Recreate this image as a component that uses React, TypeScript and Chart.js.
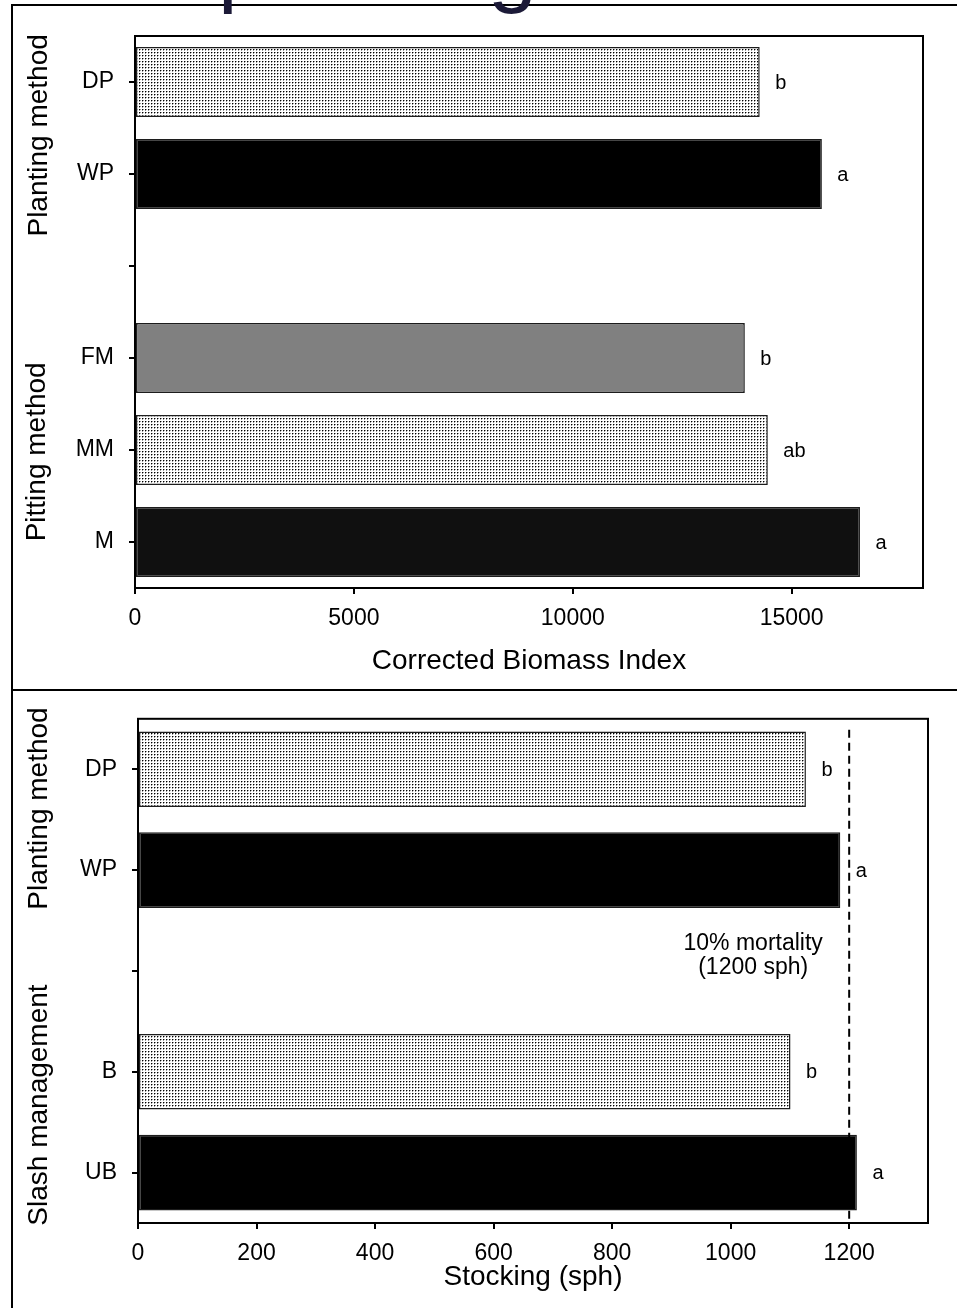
import React, { useEffect, useRef } from 'react';
import { Chart, registerables } from 'chart.js';

Chart.register(...registerables);

// ---------- data ----------
const topCategories = ['DP', 'WP', '', 'FM', 'MM', 'M'];
const topValues = [14270, 15690, null, 13930, 14455, 16560];
const topLetters = ['b', 'a', '', 'b', 'ab', 'a'];
const topTicks = [0, 5000, 10000, 15000];
const topMax = 18000;
const topTitle = 'Corrected Biomass Index';
const topGroups = ['Planting method', 'Pitting method'];

const bottomCategories = ['DP', 'WP', '', 'B', 'UB'];
const bottomValues = [1127, 1185, null, 1101, 1213];
const bottomLetters = ['b', 'a', '', 'b', 'a'];
const bottomTicks = [0, 200, 400, 600, 800, 1000, 1200];
const bottomMax = 1333;
const bottomTitle = 'Stocking (sph)';
const bottomGroups = ['Planting method', 'Slash management'];
const mortalityValue = 1200;
const mortalityLabel = ['10% mortality', '(1200 sph)'];

const headingFragments = ['p', 'g'];

// ---------- styles ----------
const FAMILY = '"Liberation Sans", Arial, Helvetica, sans-serif';

function makeDots(): CanvasPattern | string {
  const c = document.createElement('canvas');
  c.width = 3;
  c.height = 3;
  const g = c.getContext('2d');
  if (!g) return '#ddd';
  g.fillStyle = '#ffffff';
  g.fillRect(0, 0, 3, 3);
  g.fillStyle = '#000000';
  g.fillRect(1, 1, 1, 1);
  g.fillStyle = '#9a9a9a';
  g.fillRect(2, 1, 1, 1);
  g.fillRect(1, 2, 1, 1);
  const p = g.createPattern(c, 'repeat');
  return p || '#ddd';
}

type Group = { text: string; at: number; x: number };

function makeAnnot(cfg: {
  values: (number | null)[];
  letters: string[];
  groups: Group[];
  extra?: (chart: any) => void;
}) {
  return {
    id: 'annot',
    afterDraw(chart: any) {
      const { ctx, chartArea: a, scales } = chart;
      const xs = scales.x;
      const ys = scales.y;
      ctx.save();
      // plot frame
      ctx.strokeStyle = '#000';
      ctx.lineWidth = 2;
      ctx.strokeRect(a.left, a.top, a.right - a.left, a.bottom - a.top);
      // significance letters
      ctx.fillStyle = '#000';
      ctx.font = `20px ${FAMILY}`;
      ctx.textAlign = 'left';
      ctx.textBaseline = 'middle';
      cfg.values.forEach((v, i) => {
        if (v == null || !cfg.letters[i]) return;
        ctx.fillText(cfg.letters[i], xs.getPixelForValue(v) + 15.5, ys.getPixelForValue(i) + 1);
      });
      // group axis titles
      ctx.font = `28px ${FAMILY}`;
      ctx.textAlign = 'center';
      ctx.textBaseline = 'middle';
      cfg.groups.forEach((g) => {
        ctx.save();
        ctx.translate(g.x, ys.getPixelForValue(g.at));
        ctx.rotate(-Math.PI / 2);
        ctx.fillText(g.text, 0, 0);
        ctx.restore();
      });
      if (cfg.extra) cfg.extra(chart);
      ctx.restore();
    },
  };
}

function axisGrid() {
  return {
    drawOnChartArea: false,
    drawTicks: true,
    tickLength: 6,
    color: '#000',
    lineWidth: 2,
    offset: false,
  };
}

function buildConfig(opts: {
  labels: string[];
  values: (number | null)[];
  colors: any[];
  max: number;
  ticks: number[];
  title: string;
  titlePadBottom: number;
  padding: { left: number; top: number; right: number; bottom: number };
  yWidth: number;
  xHeight: number;
  barPct: number;
  plugin: any;
}) {
  return {
    type: 'bar',
    data: {
      labels: opts.labels,
      datasets: [
        {
          data: opts.values,
          backgroundColor: opts.colors,
          borderColor: '#1c1c1c',
          borderWidth: 1.5,
          borderSkipped: false,
          barPercentage: opts.barPct,
          categoryPercentage: 1,
        },
      ],
    },
    options: {
      indexAxis: 'y',
      responsive: false,
      maintainAspectRatio: false,
      animation: false,
      devicePixelRatio: 1,
      layout: { padding: opts.padding },
      plugins: { legend: { display: false }, tooltip: { enabled: false } },
      scales: {
        x: {
          type: 'linear',
          min: 0,
          max: opts.max,
          afterBuildTicks: (s: any) => {
            s.ticks = opts.ticks.map((v) => ({ value: v }));
          },
          afterFit: (s: any) => {
            s.height = opts.xHeight;
          },
          grid: axisGrid(),
          border: { display: false },
          ticks: {
            color: '#000',
            font: { size: 23, family: FAMILY, lineHeight: 1.2 },
            padding: 11,
            maxRotation: 0,
            autoSkip: false,
            callback: (v: any) => String(v),
          },
          title: {
            display: true,
            text: opts.title,
            color: '#000',
            font: { size: 28, family: FAMILY, lineHeight: 1.2 },
            padding: { top: 0, bottom: opts.titlePadBottom },
          },
        },
        y: {
          type: 'category',
          afterFit: (s: any) => {
            s.width = opts.yWidth;
          },
          grid: axisGrid(),
          border: { display: false },
          ticks: {
            color: '#000',
            font: { size: 23, family: FAMILY, lineHeight: 1.2 },
            padding: 15,
            autoSkip: false,
          },
        },
      },
    },
    plugins: [opts.plugin],
  };
}

export default function App() {
  const topRef = useRef<HTMLCanvasElement | null>(null);
  const botRef = useRef<HTMLCanvasElement | null>(null);

  useEffect(() => {
    const dots = makeDots();
    const topColors = [dots, '#000000', '#ffffff', '#808080', dots, '#101010'];
    const botColors = [dots, '#000000', '#ffffff', dots, '#000000'];

    const topPlugin = makeAnnot({
      values: topValues,
      letters: topLetters,
      groups: [
        { text: topGroups[0], at: 0.58, x: 39 },
        { text: topGroups[1], at: 4.02, x: 37 },
      ],
      extra: (chart: any) => {
        const ctx = chart.ctx;
        ctx.fillStyle = '#1c1a38';
        ctx.font = `88px ${FAMILY}`;
        ctx.textAlign = 'left';
        ctx.textBaseline = 'alphabetic';
        ctx.fillText(headingFragments[0], 218, -4.5);
        ctx.fillText(headingFragments[1], 488, -4.5);
      },
    });

    const botPlugin = makeAnnot({
      values: bottomValues,
      letters: bottomLetters,
      groups: [
        { text: bottomGroups[0], at: 0.39, x: 39 },
        { text: bottomGroups[1], at: 3.33, x: 39 },
      ],
      extra: (chart: any) => {
        const { ctx, chartArea: a, scales } = chart;
        const px = scales.x.getPixelForValue(mortalityValue);
        ctx.save();
        ctx.strokeStyle = '#000';
        ctx.lineWidth = 2;
        ctx.setLineDash([8, 5]);
        ctx.beginPath();
        ctx.moveTo(px, a.top + 11);
        ctx.lineTo(px, a.bottom);
        ctx.stroke();
        ctx.restore();
        const cy = scales.y.getPixelForValue(2);
        ctx.fillStyle = '#000';
        ctx.font = `23px ${FAMILY}`;
        ctx.textAlign = 'center';
        ctx.textBaseline = 'middle';
        ctx.fillText(mortalityLabel[0], px - 96, cy - 27);
        ctx.fillText(mortalityLabel[1], px - 96, cy - 3);
      },
    });

    const c1 = new Chart(
      topRef.current as HTMLCanvasElement,
      buildConfig({
        labels: topCategories,
        values: topValues,
        colors: topColors,
        max: topMax,
        ticks: topTicks,
        title: topTitle,
        titlePadBottom: 12,
        padding: { left: 0, top: 36, right: 34, bottom: 0 },
        yWidth: 135,
        xHeight: 102,
        barPct: 0.76,
        plugin: topPlugin,
      }) as any
    );
    const c2 = new Chart(
      botRef.current as HTMLCanvasElement,
      buildConfig({
        labels: bottomCategories,
        values: bottomValues,
        colors: botColors,
        max: bottomMax,
        ticks: bottomTicks,
        title: bottomTitle,
        titlePadBottom: 14,
        padding: { left: 0, top: 24, right: 29, bottom: 0 },
        yWidth: 138,
        xHeight: 85,
        barPct: 0.75,
        plugin: botPlugin,
      }) as any
    );
    return () => {
      c1.destroy();
      c2.destroy();
    };
  }, []);

  const line = (s: React.CSSProperties): React.CSSProperties => ({
    position: 'absolute',
    background: '#000',
    ...s,
  });

  return (
    <div
      style={{
        position: 'absolute',
        left: 0,
        top: 0,
        width: 957,
        height: 1308,
        overflow: 'hidden',
        background: '#fff',
      }}
    >
      <div style={line({ left: 11, top: 4, width: 946, height: 2 })} />
      <div style={line({ left: 11, top: 4, width: 2, height: 1304 })} />
      <div style={line({ left: 11, top: 689, width: 946, height: 2 })} />
      <canvas
        ref={topRef}
        width={957}
        height={690}
        style={{ position: 'absolute', left: 0, top: 0, width: 957, height: 690 }}
      />
      <canvas
        ref={botRef}
        width={957}
        height={618}
        style={{ position: 'absolute', left: 0, top: 690, width: 957, height: 618 }}
      />
    </div>
  );
}
